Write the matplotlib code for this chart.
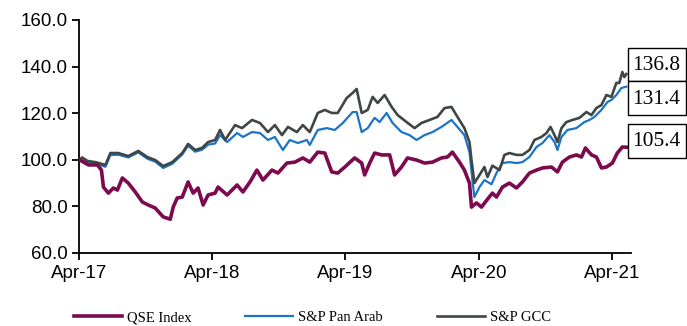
import matplotlib
matplotlib.use("Agg")
import matplotlib.pyplot as plt
from matplotlib.lines import Line2D
from matplotlib.patches import Rectangle
from datetime import datetime, timedelta

# ---------------- data (decimal year, index value) ----------------
qse_t = [2017.25, 2017.317, 2017.385, 2017.415, 2017.430, 2017.467, 2017.505, 2017.535, 2017.572, 2017.617,
         2017.669, 2017.722, 2017.767, 2017.819, 2017.879, 2017.932, 2017.954, 2017.984, 2018.022, 2018.066,
         2018.104, 2018.141, 2018.179, 2018.216, 2018.269, 2018.291, 2018.359, 2018.434, 2018.478, 2018.531,
         2018.583, 2018.628, 2018.696, 2018.741, 2018.808, 2018.868, 2018.928, 2018.980, 2019.040, 2019.093,
         2019.145, 2019.190, 2019.243, 2019.317, 2019.370, 2019.392, 2019.430, 2019.467, 2019.520, 2019.580,
         2019.617, 2019.669, 2019.714, 2019.782, 2019.842, 2019.902, 2019.969, 2020.014, 2020.051, 2020.104,
         2020.141, 2020.179, 2020.194, 2020.231, 2020.269, 2020.306, 2020.351, 2020.381, 2020.426, 2020.478,
         2020.531, 2020.576, 2020.628, 2020.681, 2020.726, 2020.793, 2020.838, 2020.875, 2020.928, 2020.980,
         2021.018, 2021.048, 2021.093, 2021.130, 2021.168, 2021.205, 2021.250, 2021.287, 2021.325, 2021.355]
qse_v = [100.0, 97.8, 97.8, 95.6, 88.3, 85.7, 87.9, 87.0, 92.2, 90.0,
         86.2, 81.9, 80.6, 79.3, 75.5, 74.5, 79.7, 83.6, 84.0, 90.5,
         85.7, 87.9, 80.6, 84.9, 85.7, 88.3, 84.9, 89.2, 86.2, 90.5,
         95.6, 91.3, 95.6, 94.3, 98.6, 99.0, 100.8, 99.0, 103.3, 102.9,
         94.8, 94.3, 96.9, 100.8, 98.6, 93.5, 98.6, 102.9, 102.1, 102.1,
         93.5, 96.9, 100.8, 99.9, 98.6, 99.0, 100.8, 101.2, 103.3, 99.0,
         95.6, 90.0, 79.7, 81.5, 79.7, 82.5, 85.7, 84.0, 88.3, 90.0,
         87.9, 90.5, 94.3, 95.6, 96.5, 96.9, 94.8, 99.0, 101.2, 102.1,
         101.2, 105.1, 102.1, 101.2, 96.5, 96.9, 98.6, 102.9, 105.5, 105.4]

pan_t = [2017.25, 2017.295, 2017.370, 2017.445, 2017.482, 2017.542, 2017.617, 2017.692, 2017.759, 2017.819,
         2017.879, 2017.947, 2018.022, 2018.066, 2018.119, 2018.171, 2018.216, 2018.269, 2018.306, 2018.359,
         2018.434, 2018.478, 2018.546, 2018.606, 2018.666, 2018.718, 2018.778, 2018.830, 2018.890, 2018.958,
         2018.980, 2019.040, 2019.108, 2019.168, 2019.228, 2019.302, 2019.332, 2019.370, 2019.415, 2019.467,
         2019.505, 2019.557, 2019.602, 2019.669, 2019.729, 2019.782, 2019.842, 2019.902, 2019.969, 2020.044,
         2020.089, 2020.141, 2020.179, 2020.201, 2020.216, 2020.254, 2020.291, 2020.344, 2020.381, 2020.426,
         2020.478, 2020.531, 2020.576, 2020.628, 2020.681, 2020.726, 2020.778, 2020.816, 2020.838, 2020.868,
         2020.913, 2020.980, 2021.040, 2021.078, 2021.115, 2021.168, 2021.213, 2021.243, 2021.280, 2021.317,
         2021.355]
pan_v = [100.0, 99.3, 98.5, 97.0, 102.0, 102.2, 101.0, 103.2, 100.5, 99.2,
         96.5, 98.3, 102.3, 106.0, 103.5, 104.3, 106.5, 107.0, 110.6, 107.6,
         111.5, 109.8, 111.9, 111.5, 108.5, 109.8, 104.2, 108.5, 107.2, 108.5,
         106.4, 112.8, 113.6, 112.8, 115.8, 120.5, 120.5, 111.9, 113.6, 118.0,
         116.2, 120.1, 115.8, 111.9, 110.6, 108.5, 110.6, 111.9, 114.1, 117.1,
         114.1, 110.6, 103.3, 91.3, 84.0, 88.3, 91.3, 89.5, 94.3, 98.6,
         99.0, 98.6, 99.0, 101.2, 105.5, 107.2, 110.6, 107.6, 104.2, 109.8,
         112.8, 113.6, 116.2, 117.1, 118.4, 121.4, 124.8, 125.7, 127.8, 130.8,
         131.4]

gcc_t = [2017.25, 2017.27, 2017.31, 2017.370, 2017.445, 2017.482, 2017.542, 2017.617, 2017.692, 2017.759,
         2017.819, 2017.879, 2017.947, 2018.022, 2018.066, 2018.119, 2018.171, 2018.216, 2018.269, 2018.306,
         2018.344, 2018.419, 2018.471, 2018.546, 2018.606, 2018.666, 2018.718, 2018.771, 2018.816, 2018.883,
         2018.928, 2018.980, 2019.040, 2019.093, 2019.145, 2019.190, 2019.257, 2019.302, 2019.332, 2019.370,
         2019.415, 2019.452, 2019.490, 2019.542, 2019.595, 2019.640, 2019.707, 2019.767, 2019.819, 2019.879,
         2019.939, 2019.992, 2020.044, 2020.089, 2020.141, 2020.179, 2020.194, 2020.216, 2020.254, 2020.291,
         2020.314, 2020.351, 2020.404, 2020.441, 2020.478, 2020.531, 2020.576, 2020.628, 2020.666, 2020.718,
         2020.756, 2020.786, 2020.816, 2020.838, 2020.868, 2020.905, 2020.950, 2021.003, 2021.055, 2021.093,
         2021.130, 2021.168, 2021.205, 2021.243, 2021.280, 2021.302, 2021.325, 2021.340, 2021.355]
gcc_v = [100.0, 101.0, 99.5, 99.0, 97.8, 102.9, 102.9, 101.6, 103.8, 101.2,
         99.9, 97.3, 99.0, 102.9, 106.8, 104.2, 105.1, 107.6, 108.5, 112.8,
         108.5, 114.9, 113.6, 117.1, 115.8, 111.9, 114.9, 110.6, 114.1, 111.9,
         114.9, 111.9, 120.1, 121.4, 120.1, 120.1, 126.5, 128.7, 130.4, 120.1,
         121.4, 127.0, 124.4, 127.8, 122.7, 119.2, 116.2, 113.6, 115.8, 117.1,
         118.4, 122.2, 122.7, 118.4, 113.6, 107.6, 99.9, 90.0, 93.5, 96.9,
         92.6, 97.5, 95.6, 102.1, 102.9, 102.1, 102.1, 104.2, 108.5, 109.8,
         111.5, 114.1, 110.6, 107.6, 113.6, 116.2, 117.1, 118.0, 120.5, 119.2,
         122.2, 123.5, 127.8, 127.0, 133.0, 133.0, 137.7, 135.5, 136.8]

series_names = ["QSE Index", "S&P Pan Arab", "S&P GCC"]
x_tick_years = [2017, 2018, 2019, 2020, 2021]
y_ticks = [60, 80, 100, 120, 140, 160]


def to_dates(dec_years):
    out = []
    for d in dec_years:
        y = int(d)
        start = datetime(y, 1, 1)
        length = (datetime(y + 1, 1, 1) - start).days
        out.append(start + timedelta(days=(d - y) * length))
    return out


# ---------------- figure ----------------
W, H = 687, 326
fig = plt.figure(figsize=(W / 100, H / 100), dpi=100)
ax = fig.add_axes([79 / W, 1 - 253 / H, (631 - 79) / W, (253 - 20) / H])

c_qse = "#7D0A4F"
c_pan = "#1C74C8"
c_gcc = "#3E4646"

ax.plot(to_dates(pan_t), pan_v, color=c_pan, lw=1.6, zorder=2)
ax.plot(to_dates(gcc_t), gcc_v, color=c_gcc, lw=1.9, zorder=3)
ax.plot(to_dates(qse_t), qse_v, color=c_qse, lw=2.6, zorder=4)

ax.set_ylim(60, 160)
ax.set_yticks(y_ticks)
ax.set_yticklabels([f"{v:.1f}" for v in y_ticks])
ax.set_xlim(datetime(2017, 4, 1), to_dates([2021.39])[0])
ax.set_xticks([datetime(y, 4, 1) for y in x_tick_years])
ax.set_xticklabels([f"Apr-{str(y)[2:]}" for y in x_tick_years])

for s in ["top", "right"]:
    ax.spines[s].set_visible(False)
for s in ["left", "bottom"]:
    ax.spines[s].set_linewidth(1.3)
ax.tick_params(axis="both", direction="out", length=5, width=1.3,
               labelsize=13.5, colors="black")
for lab in ax.get_xticklabels() + ax.get_yticklabels():
    lab.set_fontfamily("Liberation Sans")
ax.tick_params(axis="x", pad=4)
ax.tick_params(axis="y", pad=3)

# ---------------- legend (three entries) ----------------
legend_font = {"family": "Liberation Serif", "size": 10.5}
entries = [(series_names[0], c_qse, 2.6, 74),
           (series_names[1], c_pan, 1.6, 245),
           (series_names[2], c_gcc, 1.9, 437)]
for name, col, lw, xpix in entries:
    h = Line2D([], [], color=col, lw=lw)
    fig.legend(handles=[h], labels=[name], loc="center left",
               bbox_to_anchor=(xpix / W, 1 - 317.5 / H), frameon=False,
               handlelength=3.3, handletextpad=0.35, borderpad=0,
               borderaxespad=0, prop=legend_font)

# ---------------- end-value boxes ----------------
boxes = [(gcc_v[-1], 48, 81), (pan_v[-1], 81, 115), (qse_v[-1], 124, 158)]
for val, top, bot in boxes:
    rect = Rectangle((628 / W, 1 - bot / H), (686 - 628) / W, (bot - top) / H,
                     transform=fig.transFigure, fill=True, facecolor="white",
                     edgecolor="black", lw=1.0, zorder=5)
    fig.add_artist(rect)
    fig.text(632 / W, 1 - ((top + bot) / 2 + 1) / H, f"{val:.1f}",
             family="Liberation Serif", fontsize=15.5, va="center", ha="left",
             zorder=6)

fig.savefig("out.png", dpi=100)
